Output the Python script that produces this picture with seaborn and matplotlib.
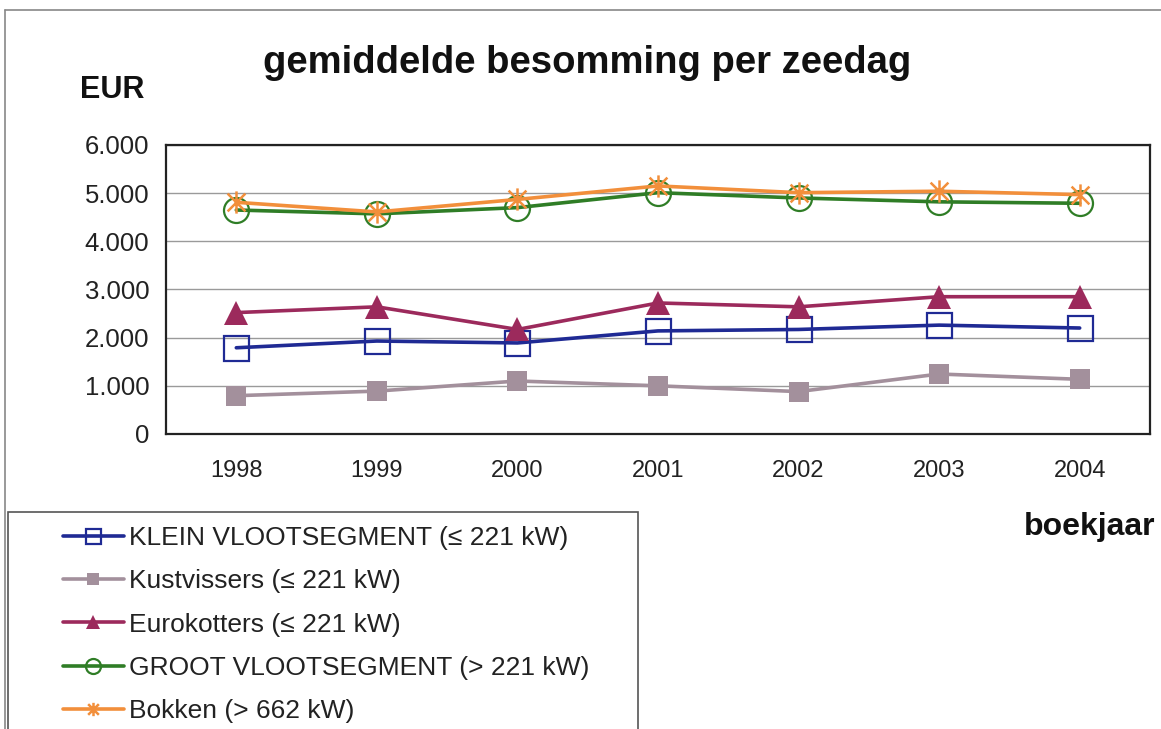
import numpy as np
import pandas as pd
import matplotlib
matplotlib.use("Agg")
import matplotlib.pyplot as plt
from matplotlib.path import Path
from matplotlib.patches import Rectangle
from matplotlib.ticker import FuncFormatter, FixedLocator
import seaborn as sns

years = ["1998", "1999", "2000", "2001", "2002", "2003", "2004"]
klein = [1790, 1930, 1890, 2140, 2170, 2260, 2200]
kustvissers = [795, 890, 1100, 1000, 880, 1245, 1135]
eurokotters = [2520, 2640, 2170, 2720, 2640, 2850, 2850]
groot = [4650, 4570, 4700, 5010, 4900, 4820, 4790]
bokken = [4810, 4610, 4870, 5150, 5010, 5040, 4970]

labels = [
    "KLEIN VLOOTSEGMENT (\u2264 221 kW)",
    "Kustvissers (\u2264 221 kW)",
    "Eurokotters (\u2264 221 kW)",
    "GROOT VLOOTSEGMENT (> 221 kW)",
    "Bokken (> 662 kW)",
]
colors = ["#1f2a94", "#a3909c", "#9c2a5c", "#2f7d26", "#f28f3b"]

# Excel-style star marker: vertical bar plus an X
star = Path(
    [(0, -1), (0, 1), (-0.8, -0.8), (0.8, 0.8), (-0.8, 0.8), (0.8, -0.8)],
    [Path.MOVETO, Path.LINETO] * 3,
)

styles = [
    dict(marker="s", markersize=18, markerfacecolor="none", markeredgewidth=1.6),
    dict(marker="s", markersize=14, markerfacecolor=colors[1], markeredgewidth=0),
    dict(marker="^", markersize=17, markerfacecolor=colors[2], markeredgewidth=0),
    dict(marker="o", markersize=18, markerfacecolor="none", markeredgewidth=1.6),
    dict(marker=star, markersize=16, markerfacecolor="none", markeredgewidth=1.8),
]

df = pd.DataFrame({"jaar": years, labels[0]: klein, labels[1]: kustvissers,
                   labels[2]: eurokotters, labels[3]: groot, labels[4]: bokken})
long = df.melt(id_vars="jaar", var_name="segment", value_name="eur")

sns.set_style("white")
plt.rcParams["font.family"] = ["Liberation Sans", "DejaVu Sans"]

fig = plt.figure(figsize=(11.61, 7.29), dpi=100)
ax = fig.add_axes([0.143, 0.4047, 0.8475, 0.3964])

for lab, col, st in zip(labels, colors, styles):
    sub = long[long["segment"] == lab]
    sns.lineplot(data=sub, x="jaar", y="eur", color=col, linewidth=2.6,
                 markeredgecolor=col, label=lab, ax=ax, legend=False, **st)

ax.set_xlim(-0.5, len(years) - 0.5)
ax.set_ylim(0, 6000)
ax.set_yticks(np.arange(0, 6001, 1000))
ax.yaxis.set_major_formatter(FuncFormatter(lambda v, p: f"{int(v):,}".replace(",", ".")))
ax.yaxis.grid(True, color="#9a9a9a", linewidth=1)
ax.set_axisbelow(True)
ax.set_xlabel("")
ax.set_ylabel("")

ax.xaxis.set_minor_locator(FixedLocator(np.arange(-0.5, len(years), 1.0)))
ax.tick_params(axis="x", which="major", length=0, labelsize=17, pad=19)
ax.tick_params(axis="x", which="minor", length=6, color="#555555", direction="out")
ax.tick_params(axis="y", length=6, color="#777777", labelsize=18.5, pad=6,
               direction="out")
ax.tick_params(labelcolor="#222222")
for s in ax.spines.values():
    s.set_color("#222222")
    s.set_linewidth(1.6)

fig.text(0.506, 0.9, "gemiddelde besomming per zeedag", ha="center", va="baseline",
         fontsize=27.5, fontweight="bold", color="#111111")
fig.text(0.069, 0.866, "EUR", ha="left", va="baseline", fontsize=22,
         fontweight="bold", color="#111111")
fig.text(0.995, 0.266, "boekjaar", ha="right", va="baseline", fontsize=23,
         fontweight="bold", color="#111111")

# legend box: the frame is drawn separately so the entries can sit indented
fig.add_artist(Rectangle((8 / 1161, -0.02), 630 / 1161, 1 - 512 / 729 + 0.02,
                         transform=fig.transFigure, facecolor="white",
                         edgecolor="#555555", linewidth=1.2, zorder=1))
handles, hlabels = ax.get_legend_handles_labels()
leg = fig.legend(handles, hlabels, loc="upper left",
                 bbox_to_anchor=(63 / 1161, 1 - 526 / 729), fontsize=19,
                 frameon=False, markerscale=0.6, handlelength=2.3,
                 handletextpad=0.2, labelspacing=0.73, borderpad=0,
                 borderaxespad=0)
leg.set_zorder(2)
for t in leg.get_texts():
    t.set_color("#222222")
for h in leg.legend_handles:
    h.set_linewidth(2.6)

# outer chart border (top and left edges visible in the reference)
fig.add_artist(plt.Line2D([0.004, 1.0], [1 - 10 / 729, 1 - 10 / 729],
                          transform=fig.transFigure, color="#888888", linewidth=1.2))
fig.add_artist(plt.Line2D([0.004, 0.004], [0, 1 - 10 / 729],
                          transform=fig.transFigure, color="#888888", linewidth=1.2))

fig.savefig("out.png", dpi=100)
